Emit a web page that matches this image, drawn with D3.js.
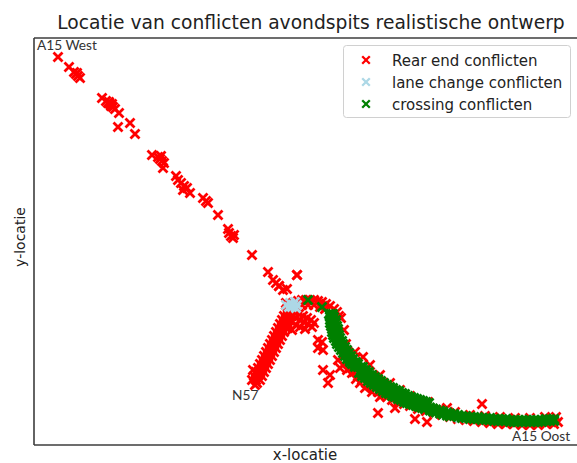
<!DOCTYPE html>
<html><head><meta charset="utf-8">
<script src="https://cdn.jsdelivr.net/npm/d3@7"></script>
<style>body{margin:0;background:#fff}svg{display:block}</style>
</head><body><svg id="c" width="577" height="463"></svg>
<script>
const title = "Locatie van conflicten avondspits realistische ontwerp";
const xLabel = "x-locatie", yLabel = "y-locatie";
const seriesNames = ["Rear end conflicten","lane change conflicten","crossing conflicten"];
const seriesColors = ["#ff0000","#add8e6","#008000"];
const places = [{t:"A15 West",x:3,y:395},{t:"N57",x:198,y:45},{t:"A15 Oost",x:478,y:4}];

const rearEnd = [
// A15 West diagonal
[24,388],[35,378],[40,373],[42,371],[44,369],[46,367],[43,372],
[68,347],[72,344],[74,342],[76,341],[77,339],[79,338],[75,343],[78,341],[81,336],[85,332],[84,318],[96,322],[101,311],
[118,290],[124,288],[126,286],[128,284],[130,282],[127,289],[129,277],
[142,269],[144,265],[147,262],[150,259],[153,257],[149,255],[156,252],[169,247],[172,244],[174,242],[184,230],
[194,216],[195,212],[197,209],[199,207],[200,210],[218,190],[234,173],[239,165],[242,162],[245,159],[249,155],[253,156],[263,170],
// N57 branch
[222,65],[224,69],[226,73],[228,77],[230,81],[232,85],[234,89],[236,93],[238,97],[240,101],[242,105],[244,109],[246,113],[248,117],[250,121],[252,125],[254,129],[256,133],[258,137],[261,140],
[218,65],[220,69],[222,73],[224,77],[226,81],[228,85],[230,89],[232,93],[234,97],[236,101],[238,105],[240,109],[242,113],[244,117],[246,121],[248,125],[250,129],[252,133],[254,137],
[226,65],[228,69],[230,73],[232,77],[234,81],[236,85],[238,89],[240,93],[242,97],[244,101],[246,105],[248,109],[250,113],[252,117],[254,121],[256,125],[258,129],[260,133],[262,137],
[221,60],[223,62],[219,75],
// lobe inside the arch
[261,133],[265,131],[269,129],[273,127],[277,125],[280,122],[262,127],[266,125],[270,123],[274,121],[278,118],[258,123],[262,120],[266,118],[271,116],[254,117],[258,115],
// arch top
[252,142],[256,140],[260,142],[264,144],[268,145],[272,145],[276,145],[280,145],[284,144],[288,143],[292,141],[296,139],[300,136],[303,133],[305,129],
[262,139],[268,140],[274,140],[280,140],[286,138],[291,136],
// isolated groups
[284,105],[288,103],[284,97],[289,95],[289,75],[296,70],[294,62],[304,85],[309,80],[313,75],[306,77],
[344,32],[448,41],[361,37],[381,26],[393,23],[263,170],[245,159],
// protruding on upper/right side of the band
[307,127],[310,115],[312,101],[321,93],[329,88],[336,80],[346,70],[356,62],[366,55],[376,49],[394,43],[413,37],
[406,36],[421,33],[436,30],[451,29],[466,28],[481,27],[496,27],[511,28],[522,28],
// lower fringe of the band
[316,77],[320,73],[324,69],[328,65],[332,62],[336,59],[340,56],[344,53],[348,50],[353,48],[358,45],[364,43],[370,41],[376,39],
[384,36],[392,34],[400,32],[408,30],[416,28],[424,26],[432,25],[440,24],[448,23],[456,22],[464,21],[472,21],[480,21],[488,20],
[496,20],[504,20],[512,21],[520,21],[524,23],
[326,62],[331,57],[338,53],[346,48],[322,66],[318,72]
];

const laneChange = [
[252,140],[256,142],[259,140],[261,143],[258,138],[263,140],[255,138],[262,137],[296,129],
[396,37],[411,32],[426,27],[454,26],[471,25],[486,24],[501,25]
];

const crossing = [
[274,145],[288,138],
// steep part
[297,131],[298,128],[299,125],[299,122],[300,119],[301,116],[301,113],[302,110],[303,107],[305,104],[306,101],[308,98],[310,95],[312,92],[314,89],[316,86],[319,83],[321,81],[324,78],
[295,131],[296,128],[296,125],[296,122],[297,119],[298,116],[298,113],[299,110],[300,107],[302,104],[303,101],[305,98],[307,95],[309,92],[311,89],[313,86],[316,83],[318,81],[321,78],
[299,131],[300,128],[302,125],[302,122],[303,119],[304,116],[304,113],[305,110],[306,107],[308,104],[309,101],[311,98],[313,95],[315,92],[317,89],[319,86],[322,83],[324,81],[327,78],
[298,129.5],[299,126.5],[300,123.5],[300,120.5],[301,117.5],[302,114.5],[302,111.5],[303,108.5],[305,105.5],[306,102.5],[308,99.5],[310,96.5],[312,93.5],[314,90.5],[316,87.5],[318,84.5],[321,82],[323,79.5],
[296,129.5],[297,126.5],[298,123.5],[298,120.5],[299,117.5],[300,114.5],[300,111.5],[301,108.5],[303,105.5],[304,102.5],[306,99.5],[308,96.5],[310,93.5],[312,90.5],[314,87.5],[316,84.5],[319,82],[321,79.5],
// bend
[327,75],[330,72],[333,70],[336,67],[339,65],[342,63],[345,61],[348,59],[351,57],[354,55],[357,54],[360,52],[363,51],[366,49],[369,48],[372,46],[375,45],[378,44],[381,43],[384,42],[387,41],[390,40],[393,39],
[329,78],[332,75],[335,73],[338,70],[341,68],[344,66],[347,64],[350,62],[353,60],[356,58],[359,57],[362,55],[365,54],[368,52],[371,51],[374,49],[377,48],[380,47],[383,46],[386,45],[389,44],[392,43],[395,42],
[325,72],[328,69],[331,67],[334,64],[337,62],[340,60],[343,58],[346,56],[349,54],[352,52],[355,51],[358,49],[361,48],[364,46],[367,45],[370,43],[373,42],[376,41],[379,40],[382,39],[385,38],[388,37],[391,36],
[329.5,75],[332.5,72.5],[335.5,70],[338.5,67.5],[341.5,65.5],[344.5,63.5],[347.5,61.5],[350.5,59.5],[353.5,57.5],[356.5,56],[359.5,54.5],[362.5,53],[365.5,51.5],[368.5,50],[371.5,48.5],[374.5,47],[377.5,46],[380.5,45],[383.5,44],[386.5,43],[389.5,42],[392.5,41],
[327.5,72],[330.5,69.5],[333.5,67],[336.5,64.5],[339.5,62.5],[342.5,60.5],[345.5,58.5],[348.5,56.5],[351.5,54.5],[354.5,53],[357.5,51.5],[360.5,50],[363.5,48.5],[366.5,47],[369.5,45.5],[372.5,44],[375.5,43],[378.5,42],[381.5,41],[384.5,40],[387.5,39],[390.5,38],
// flat part towards A15 Oost
[396,36],[399,35],[402,34],[406,33],[409,32],[413,31],[416,30],[420,30],[424,29],[428,28],[432,28],[436,27],[440,27],[444,27],[448,26],[452,26],[456,26],[460,25],[464,25],[468,25],[472,25],[476,24],[480,24],[484,24],[488,24],[492,24],[496,24],[500,24],[504,24],[508,24],[512,25],[516,25],[520,25],
[396,37.5],[399,36.5],[402,35.5],[406,34.5],[409,33.5],[413,32.5],[416,31.5],[420,31],[424,30],[428,29],[432,29],[436,28],[440,28],[444,28],[448,27],[452,27],[456,27],[460,26],[464,26],[468,26],[472,26],[476,25],[480,25],[484,25],[488,25],[492,25],[496,25],[500,25],[504,25],[508,25],[512,26],[516,26],[520,26],
[396,34.5],[399,33.5],[402,32.5],[406,31.5],[409,30.5],[413,29.5],[416,28.5],[420,29],[424,28],[428,27],[432,27],[436,26],[440,26],[444,26],[448,25],[452,25],[456,25],[460,24],[464,24],[468,24],[472,24],[476,23],[480,23],[484,23],[488,23],[492,23],[496,23],[500,23],[504,23],[508,23],[512,24],[516,24],[520,24]
];

const allSeries = [rearEnd, laneChange, crossing];

const svg = d3.select("#c");
const x = d3.scaleLinear().domain([0, 543]).range([34, 577]);
const y = d3.scaleLinear().domain([0, 407]).range([445, 38]);

const m = 4.5;
const xPath = `M${-m},${-m}L${m},${m}M${m},${-m}L${-m},${m}`;

const spine = "#3d3d3d";
svg.append("line").attr("x1",x(0)).attr("x2",x(543)).attr("y1",y(0)).attr("y2",y(0)).attr("stroke",spine).attr("stroke-width",1.6);
svg.append("line").attr("x1",x(0)).attr("x2",x(543)).attr("y1",y(407)).attr("y2",y(407)).attr("stroke",spine).attr("stroke-width",1.6);
svg.append("line").attr("x1",x(0)).attr("x2",x(0)).attr("y1",y(0)).attr("y2",y(407)).attr("stroke",spine).attr("stroke-width",1.6);

allSeries.forEach((data,i)=>{
  svg.append("g").selectAll("path").data(data).join("path")
    .attr("transform",d=>`translate(${x(d[0])},${y(d[1])})`)
    .attr("d",xPath).attr("fill","none").attr("stroke",seriesColors[i]).attr("stroke-width",2.8);
});

svg.append("g").selectAll("text").data(places).join("text")
  .attr("x",d=>x(d.x)).attr("y",d=>y(d.y))
  .attr("font-family","Lato, 'Open Sans', sans-serif").attr("font-size",13.7).attr("fill","#333")
  .text(d=>d.t);

svg.append("text").attr("x",311).attr("y",29).attr("text-anchor","middle")
  .attr("font-family","'DejaVu Sans', sans-serif").attr("font-size",18.7).attr("fill","#222").text(title);
svg.append("text").attr("x",305).attr("y",460).attr("text-anchor","middle")
  .attr("font-family","'DejaVu Sans', sans-serif").attr("font-size",15).attr("fill","#222").text(xLabel);
svg.append("text").attr("transform","translate(25,237) rotate(-90)").attr("text-anchor","middle")
  .attr("font-family","'DejaVu Sans', sans-serif").attr("font-size",14).attr("fill","#222").text(yLabel);

const lg = svg.append("g");
lg.append("rect").attr("x",343.5).attr("y",45.5).attr("width",227).attr("height",72).attr("rx",3)
  .attr("fill","#fff").attr("fill-opacity",0.8).attr("stroke","#d0d0d0").attr("stroke-width",1);
seriesNames.forEach((n,i)=>{
  const yy = 60 + i*22;
  lg.append("path").attr("transform",`translate(366,${yy})`).attr("d","M-3.8,-3.8L3.8,3.8M3.8,-3.8L-3.8,3.8")
    .attr("fill","none").attr("stroke",seriesColors[i]).attr("stroke-width",2.3);
  lg.append("text").attr("x",392).attr("y",yy+5.5).attr("font-family","'DejaVu Sans', sans-serif")
    .attr("font-size",15).attr("fill","#222").text(n);
});
</script></body></html>
